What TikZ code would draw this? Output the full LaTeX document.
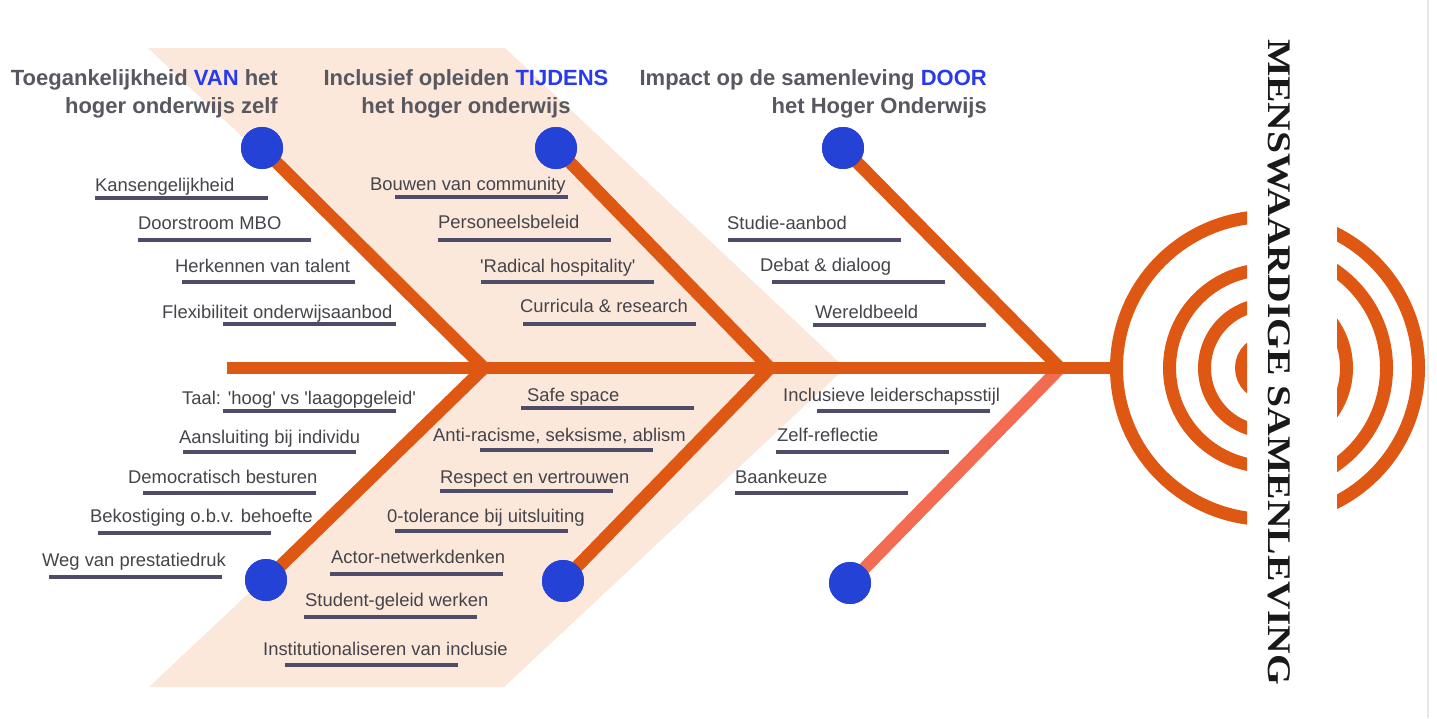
\documentclass[tikz,border=0pt]{standalone}
\usepackage{graphicx}
\usepackage{fontspec}
\setmainfont{Liberation Sans}
\newfontfamily\vserif{Liberation Serif}
\definecolor{bonec}{RGB}{222,88,20}
\definecolor{salmon}{RGB}{243,108,82}
\definecolor{dotblue}{RGB}{36,66,214}
\definecolor{peach}{RGB}{252,231,219}
\definecolor{lblgray}{RGB}{68,68,74}
\definecolor{ttlgray}{RGB}{88,88,96}
\definecolor{tblue}{RGB}{40,58,238}
\definecolor{ulcol}{RGB}{78,76,104}
\definecolor{edgec}{RGB}{232,232,232}
\newcommand{\mylab}[6]{\node[lbl] (#1) at (#2,#3+6.6) {#4}; \draw[uline] (#5,#6) -- ++(173,0);}
\begin{document}
\begin{tikzpicture}[x=1pt,y=-1pt,
  bonestyle/.style={draw=bonec,line width=12.5pt,line join=miter},
  arcstyle/.style={draw=bonec,line width=13pt},
  dot/.style={circle,fill=dotblue,minimum size=42pt,inner sep=0pt},
  lbl/.style={anchor=base west,inner sep=0pt,text=lblgray,font=\fontsize{18.4}{22}\selectfont},
  uline/.style={draw=ulcol,line width=3.5pt},
  ttl/.style={inner sep=0pt,text=ttlgray,font=\fontsize{22}{28}\selectfont\bfseries},
]
\useasboundingbox (0,0) rectangle (1437,718);
\fill[white] (0,0) rectangle (1437,718);
\draw[edgec,line width=2pt] (1428,0) -- (1428,718);

% peach chevron band
\fill[peach] (148,48) -- (505,48) -- (845,368) -- (504,687) -- (149,687) -- (488,368) -- cycle;

% junctions and spine ends
\coordinate (j1) at (484,368);
\coordinate (j2) at (770,368);
\coordinate (j3) at (1060,368);
\coordinate (s0) at (227,368);
\coordinate (s1) at (1118,368);

% dots (placed first so that bones can refer to them)
\node[dot] (d1) at (262,148) {};
\node[dot] (d2) at (556,148) {};
\node[dot] (d3) at (843,148) {};
\node[dot] (d4) at (266,580) {};
\node[dot] (d5) at (563,581) {};
\node[dot] (d6) at (850,583) {};

% bones
\draw[bonestyle] (d1.center) -- (j1) -- (d4.center);
\draw[bonestyle] (d2.center) -- (j2) -- (d5.center);
\draw[bonestyle,draw=salmon] (j3) -- (d6.center);
\draw[bonestyle] (d3.center) -- (j3);
\draw[bonestyle] (s0) -- (s1);

% redraw dots on top
\foreach \d in {d1,d2,d3,d4,d5,d6} {\fill[dotblue] (\d.center) circle[radius=21];}

% concentric arcs
\begin{scope}
\clip (1000,0) rectangle (1247,718);
\draw[arcstyle] (1268,368) circle[radius=151.5];
\draw[arcstyle] (1268,368) circle[radius=98.5];
\draw[arcstyle] (1268,368) circle[radius=63.5];
\draw[arcstyle] (1268,368) circle[radius=26.5];
\end{scope}
\begin{scope}
\clip (1337,0) rectangle (1437,718);
\draw[arcstyle] (1268,368) circle[radius=150.5];
\draw[arcstyle] (1268,368) circle[radius=118.5];
\draw[arcstyle] (1268,368) circle[radius=78.5];
\end{scope}

\node[rotate=-90,inner sep=0pt,text=black!90,font=\vserif\bfseries\fontsize{33}{33}\selectfont] (mens) at (1279,362) {\scalebox{1.2}[1]{MENSWAARDIGE SAMENLEVING}};

% titles
\node[ttl,anchor=base east] (t1a) at (278,85) {Toegankelijkheid \textcolor{tblue}{VAN} het};
\node[ttl,anchor=base east] (t1b) at (278,113) {hoger onderwijs zelf};
\node[ttl,anchor=base] (t2a) at (466,85) {Inclusief opleiden \textcolor{tblue}{TIJDENS}};
\node[ttl,anchor=base] (t2b) at (466,113) {het hoger onderwijs};
\node[ttl,anchor=base east] (t3a) at (987,85) {Impact op de samenleving \textcolor{tblue}{DOOR}};
\node[ttl,anchor=base east] (t3b) at (987,113) {het Hoger Onderwijs};

% labels
\mylab{l1}{95}{185}{Kansengelijkheid}{95}{198}
\mylab{l2}{138}{223}{Doorstroom MBO}{138}{240}
\mylab{l3}{175}{266}{Herkennen van talent}{182}{282}
\mylab{l4}{162}{312}{Flexibiliteit onderwijsaanbod}{223}{324}
\mylab{l5}{370}{184}{Bouwen van community}{395}{197}
\mylab{l6}{438}{222}{Personeelsbeleid}{438}{240}
\mylab{l7}{480}{266}{\textquotesingle Radical hospitality\textquotesingle}{481}{282}
\mylab{l8}{520}{306}{Curricula \& research}{523}{324}
\mylab{l9}{727}{223}{Studie-aanbod}{728}{240}
\mylab{l10}{760}{265}{Debat \& dialoog}{772}{282}
\mylab{l11}{815}{312}{Wereldbeeld}{813}{325}
\mylab{l12}{182}{398}{Taal: \textquotesingle hoog\textquotesingle{} vs \textquotesingle laagopgeleid\textquotesingle}{223}{411}
\mylab{l13}{179}{437}{Aansluiting bij individu}{183}{452}
\mylab{l14}{128}{477}{Democratisch besturen}{143}{493}
\mylab{l15}{90}{516}{Bekostiging o.b.v. behoefte}{98}{533}
\mylab{l16}{42}{560}{Weg van prestatiedruk}{49}{577}
\mylab{l17}{527}{395}{Safe space}{521}{408}
\mylab{l18}{433}{435}{Anti-racisme, seksisme, ablism}{480}{450}
\mylab{l19}{440}{477}{Respect en vertrouwen}{440}{491}
\mylab{l20}{387}{516}{0-tolerance bij uitsluiting}{395}{531}
\mylab{l21}{331}{557}{Actor-netwerkdenken}{330}{574}
\mylab{l22}{305}{600}{Student-geleid werken}{304}{617}
\mylab{l23}{263}{649}{Institutionaliseren van inclusie}{285}{665}
\mylab{l24}{783}{395}{Inclusieve leiderschapsstijl}{817}{411}
\mylab{l25}{777}{435}{Zelf-reflectie}{776}{452}
\mylab{l26}{735}{477}{Baankeuze}{735}{493}
\end{tikzpicture}
\end{document}
